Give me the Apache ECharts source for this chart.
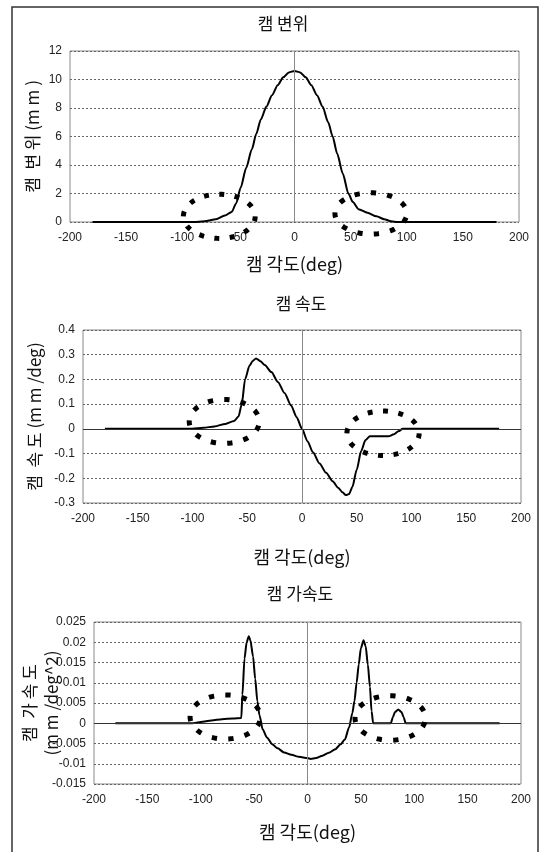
<!DOCTYPE html>
<html>
<head>
<meta charset="utf-8">
<script src="https://cdn.jsdelivr.net/npm/echarts@6/dist/echarts.min.js"></script>
<style>
  html, body { margin: 0; padding: 0; background: #fff; }
  #camChart { width: 543px; height: 852px; }
</style>
</head>
<body>
<div id="camChart"></div>
<script>
// cam displacement (mm)
var dispAngle = [-180, -90, -80, -70, -62, -56, -52, -48, -43, -38, -34, -30, -25, -20, -15, -10, -5, 0, 5, 10, 15, 20, 25, 30, 34, 38, 43, 48, 52, 57, 65, 73, 80, 86, 92, 180];
var dispValue = [0, 0, 0.05, 0.2, 0.45, 0.7, 1.3, 2.4, 3.8, 5.1, 6.2, 7.2, 8.1, 8.9, 9.6, 10.15, 10.5, 10.6, 10.5, 10.15, 9.6, 8.9, 8.1, 7.0, 6.0, 4.8, 3.4, 2.0, 1.4, 0.9, 0.65, 0.4, 0.2, 0.05, 0, 0];

// cam velocity (mm/deg)
var velAngle = [-180, -100, -90, -80, -70, -62, -58, -55, -52, -48, -45, -42, -38, -34, -28, -22, -16, -10, -5, 0, 5, 10, 16, 22, 28, 33, 37, 40, 43, 46, 50, 54, 58, 62, 79, 84, 88, 92, 180];
var velValue = [0, 0, 0.004, 0.01, 0.02, 0.032, 0.05, 0.1, 0.2, 0.255, 0.275, 0.285, 0.274, 0.258, 0.23, 0.19, 0.145, 0.095, 0.048, 0, -0.05, -0.095, -0.14, -0.178, -0.212, -0.238, -0.257, -0.268, -0.264, -0.235, -0.165, -0.09, -0.045, -0.03, -0.03, -0.022, -0.01, 0, 0];

// cam acceleration (mm/deg^2)
var accAngle = [-180, -108, -100, -90, -80, -70, -62, -61, -59, -57, -55, -53.5, -51, -49, -47, -45, -42, -38, -33, -28, -22, -15, -8, 0, 3, 8, 14, 20, 26, 31, 35, 39, 42, 44, 46, 48, 50, 52.5, 54.5, 56.5, 58.5, 60, 61.5, 78, 80, 82, 85, 88, 90, 92, 180];
var accValue = [0, 0, 0.0003, 0.0007, 0.001, 0.0012, 0.0013, 0.007, 0.016, 0.02, 0.0215, 0.0205, 0.0165, 0.011, 0.0055, 0.002, -0.0015, -0.0035, -0.0052, -0.0062, -0.0072, -0.0078, -0.0083, -0.0086, -0.0088, -0.0086, -0.008, -0.0073, -0.0064, -0.0052, -0.004, -0.001, 0.0025, 0.0055, 0.01, 0.0145, 0.0185, 0.0205, 0.019, 0.0145, 0.009, 0.003, 0, 0, 0.0015, 0.0028, 0.0034, 0.0028, 0.0015, 0, 0];

// dotted marking ellipses: [centerAngle, centerValue, radiusAngle, radiusValue]
var dispRings = [[-67, 0.4, 32, 1.55], [68, 0.6, 32, 1.45]];
var velRings = [[-71, 0.03, 32, 0.089], [74, -0.018, 33, 0.09]];
var accRings = [[-77, 0.00155, 33, 0.00545], [77.5, 0.0013, 33, 0.0055]];

var titles = ['캠 변위', '캠 속도', '캠 가속도'];
var xName = '캠 각도(deg)';
var yNames = ['캠  변 위 (m m )', '캠  속 도 (m m /deg)', '캠  가 속 도\n(m m /deg^2)'];

var labelFont = 'Liberation Sans, Arial, sans-serif';
var krFont = 'Noto Sans CJK KR, sans-serif';

function zip(xs, ys) {
  var out = [];
  for (var i = 0; i < xs.length; i++) out.push([xs[i], ys[i]]);
  return out;
}

function ringItem(params, api) {
  var c = api.coord([api.value(0), api.value(1)]);
  var s = api.size([api.value(2), api.value(3)]);
  var a = s[0], b = s[1];
  var pts = [];
  for (var i = 0; i <= 96; i++) {
    var t = -Math.PI / 2 + i / 96 * Math.PI * 2;
    pts.push([c[0] + a * Math.cos(t), c[1] + b * Math.sin(t)]);
  }
  // fit a whole number of dots round the ellipse so the seam does not show
  var perim = Math.PI * (3 * (a + b) - Math.sqrt((3 * a + b) * (a + 3 * b)));
  var period = perim / Math.max(1, Math.round(perim / 16));
  return {
    type: 'polyline',
    shape: { points: pts },
    style: { fill: 'none', stroke: '#000', lineWidth: 5, lineDash: [period * 0.32, period * 0.68] },
  };
}

function xAxisOf(idx, gap) {
  return {
    type: 'value', gridIndex: idx, min: -200, max: 200, interval: 50,
    name: xName, nameLocation: 'middle', nameGap: gap,
    nameTextStyle: { fontFamily: krFont, fontSize: 18, color: '#111' },
    axisLine: { show: false }, axisTick: { show: false }, splitLine: { show: false },
    axisLabel: { fontFamily: labelFont, fontSize: 12, color: '#222', margin: 10 },
  };
}

function yAxisOf(idx, min, max, step, gap, name) {
  return {
    type: 'value', gridIndex: idx, min: min, max: max, interval: step,
    name: name, nameLocation: 'middle', nameGap: gap, nameRotate: 90,
    nameMoveOverlap: false,
    nameTextStyle: { fontFamily: krFont, fontSize: 17, color: '#111', lineHeight: 22 },
    axisLine: { show: false }, axisTick: { show: false },
    splitLine: { show: true, lineStyle: { color: '#666', type: [2, 2], width: 1 } },
    axisLabel: { fontFamily: labelFont, fontSize: 12, color: '#222', margin: 8 },
  };
}

function zeroLines(withHorizontal) {
  var data = [{ xAxis: 0, lineStyle: { color: '#888', width: 1, type: 'solid' } }];
  if (withHorizontal) data.push({ yAxis: 0, lineStyle: { color: '#333', width: 1, type: 'solid' } });
  return { silent: true, symbol: ['none', 'none'], label: { show: false }, animation: false, data: data };
}

function curve(idx, xs, ys, withHorizontal) {
  return {
    type: 'line', xAxisIndex: idx, yAxisIndex: idx, data: zip(xs, ys),
    showSymbol: false, symbol: 'none', animation: false,
    smooth: 0.25, smoothMonotone: 'x',
    lineStyle: { color: '#000', width: 2 },
    markLine: zeroLines(withHorizontal),
  };
}

function rings(idx, data) {
  return {
    type: 'custom', xAxisIndex: idx, yAxisIndex: idx, data: data,
    encode: { x: 0, y: 1 }, renderItem: ringItem, animation: false, z: 5,
  };
}

var titleStyle = { fontFamily: krFont, fontSize: 17, fontWeight: 'normal', color: '#111' };

var chart = echarts.init(document.getElementById('camChart'));
chart.setOption({
  backgroundColor: '#fff',
  title: [
    { text: titles[0], left: 283, top: 15, textAlign: 'center', padding: 0, textStyle: titleStyle },
    { text: titles[1], left: 301, top: 295, textAlign: 'center', padding: 0, textStyle: titleStyle },
    { text: titles[2], left: 300, top: 585, textAlign: 'center', padding: 0, textStyle: titleStyle },
  ],
  graphic: [
    { type: 'polyline', silent: true, shape: { points: [[12, 860], [12, 7], [538, 7], [538, 860]] }, style: { stroke: '#333', lineWidth: 1.5, fill: 'none' } },
  ],
  grid: [
    { left: 70, width: 449, top: 51, height: 171, show: true, borderColor: '#888', borderWidth: 1, outerBoundsMode: 'none' },
    { left: 83, width: 438, top: 330, height: 173, show: true, borderColor: '#888', borderWidth: 1, outerBoundsMode: 'none' },
    { left: 94, width: 427, top: 622, height: 162, show: true, borderColor: '#888', borderWidth: 1, outerBoundsMode: 'none' },
  ],
  xAxis: [xAxisOf(0, 33), xAxisOf(1, 45), xAxisOf(2, 39)],
  yAxis: [
    yAxisOf(0, 0, 12, 2, 26, yNames[0]),
    yAxisOf(1, -0.3, 0.4, 0.1, 37, yNames[1]),
    yAxisOf(2, -0.015, 0.025, 0.005, 31, yNames[2]),
  ],
  series: [
    curve(0, dispAngle, dispValue, false),
    curve(1, velAngle, velValue, true),
    curve(2, accAngle, accValue, true),
    rings(0, dispRings),
    rings(1, velRings),
    rings(2, accRings),
  ],
});
</script>
</body>
</html>
